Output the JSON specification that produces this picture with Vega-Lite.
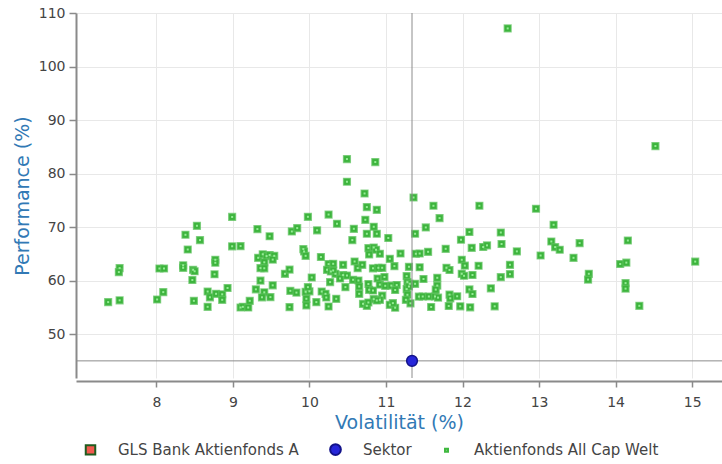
{
  "$schema": "https://vega.github.io/schema/vega-lite/v6.json",
  "width": 646,
  "height": 365,
  "autosize": {"type": "none"},
  "padding": {"left": 76, "top": 13, "right": 0, "bottom": 86},
  "config": {
    "view": {"stroke": null},
    "font": "DejaVu Sans",
    "axis": {
      "domainColor": "#8a8a8a", "domainWidth": 2,
      "tickColor": "#8a8a8a", "tickWidth": 1.5,
      "gridColor": "#e8e8e8", "gridWidth": 1,
      "labelColor": "#444444", "labelFont": "DejaVu Sans", "labelFontSize": 14,
      "titleFont": "DejaVu Sans", "titleFontSize": 19, "titleFontWeight": "normal", "titleColor": "#3179b5"
    },
    "legend": {
      "orient": "none", "legendX": 7, "legendY": 429, "direction": "horizontal",
      "columnPadding": 27, "labelOffset": 20, "symbolStrokeWidth": 2, "labelLimit": 0,
      "labelFont": "DejaVu Sans", "labelFontSize": 15, "labelColor": "#444444", "padding": 0
    }
  },
  "datasets": {
    "sektor": [{"v": 11.34, "p": 45.0, "s": "Sektor"}],
    "funds": [
      {"v":7.37,"p":55.98},{"v":7.52,"p":56.32},{"v":7.52,"p":62.34},{"v":7.51,"p":61.59},{"v":8.01,"p":56.47},{"v":8.04,"p":62.26},{"v":8.10,"p":62.26},{"v":8.09,"p":57.85},{"v":8.35,"p":62.86},{"v":8.35,"p":62.39},{"v":8.38,"p":68.56},{"v":8.41,"p":65.81},{"v":8.48,"p":62.02},{"v":8.50,"p":61.74},{"v":8.47,"p":60.11},{"v":8.49,"p":56.22},{"v":8.53,"p":70.24},{"v":8.57,"p":67.57},{"v":8.67,"p":55.10},{"v":8.67,"p":57.96},{"v":8.70,"p":56.88},{"v":8.77,"p":63.89},{"v":8.77,"p":63.33},{"v":8.76,"p":61.18},{"v":8.78,"p":57.53},{"v":8.86,"p":57.44},{"v":8.86,"p":56.41},{"v":8.93,"p":58.62},{"v":8.99,"p":71.89},{"v":8.99,"p":66.41},{"v":9.10,"p":66.45},{"v":9.10,"p":54.97},{"v":9.13,"p":55.10},{"v":9.20,"p":54.97},{"v":9.22,"p":56.22},{"v":9.30,"p":58.37},{"v":9.32,"p":69.63},{"v":9.33,"p":64.26},{"v":9.39,"p":64.92},{"v":9.44,"p":64.58},{"v":9.48,"p":64.78},{"v":9.54,"p":64.63},{"v":9.52,"p":63.92},{"v":9.41,"p":63.42},{"v":9.36,"p":62.34},{"v":9.41,"p":62.30},{"v":9.36,"p":60.00},{"v":9.52,"p":59.12},{"v":9.41,"p":57.81},{"v":9.38,"p":56.88},{"v":9.49,"p":56.92},{"v":9.48,"p":68.28},{"v":9.68,"p":61.27},{"v":9.74,"p":62.06},{"v":9.75,"p":58.09},{"v":9.83,"p":57.76},{"v":9.74,"p":55.05},{"v":9.77,"p":69.18},{"v":9.84,"p":69.81},
      {"v":9.92,"p":65.89},{"v":9.93,"p":65.44},{"v":9.95,"p":64.63},{"v":9.98,"p":71.92},{"v":9.95,"p":57.91},{"v":10.00,"p":58.00},{"v":9.98,"p":58.78},{"v":9.96,"p":56.60},{"v":9.96,"p":55.38},{"v":10.03,"p":60.58},{"v":10.09,"p":55.98},{"v":10.10,"p":69.40},{"v":10.15,"p":64.41},{"v":10.16,"p":57.96},{"v":10.21,"p":57.53},{"v":10.22,"p":56.84},{"v":10.25,"p":72.34},{"v":10.25,"p":63.08},{"v":10.31,"p":63.14},{"v":10.23,"p":62.02},{"v":10.28,"p":61.70},{"v":10.34,"p":61.27},{"v":10.31,"p":61.89},{"v":10.25,"p":55.16},{"v":10.27,"p":59.72},{"v":10.35,"p":56.60},{"v":10.36,"p":70.62},{"v":10.44,"p":62.95},{"v":10.44,"p":61.03},{"v":10.49,"p":60.95},{"v":10.40,"p":60.39},{"v":10.47,"p":58.78},{"v":10.49,"p":82.71},{"v":10.49,"p":78.47},{"v":10.56,"p":67.57},{"v":10.58,"p":69.68},{"v":10.59,"p":63.57},{"v":10.63,"p":62.34},{"v":10.57,"p":60.15},{"v":10.64,"p":60.02},{"v":10.65,"p":58.90},{"v":10.65,"p":57.53},{"v":10.69,"p":62.95},{"v":10.72,"p":76.28},{"v":10.73,"p":71.36},{"v":10.75,"p":73.74},{"v":10.75,"p":68.75},{"v":10.77,"p":66.07},{"v":10.84,"p":66.19},{"v":10.87,"p":65.76},{"v":10.78,"p":64.88},{"v":10.92,"p":65.01},{"v":10.83,"p":62.30},{"v":10.90,"p":62.39},{"v":10.95,"p":62.39},{"v":10.89,"p":60.39},{"v":10.98,"p":60.67},{"v":10.77,"p":59.36},{"v":10.92,"p":59.25},{"v":10.99,"p":59.03},{"v":11.07,"p":59.07},{"v":11.14,"p":59.18},{"v":10.78,"p":58.28},{"v":10.83,"p":58.15},{"v":11.12,"p":58.24},{"v":10.95,"p":57.20},{"v":10.92,"p":56.41},{"v":10.84,"p":56.54},{"v":10.88,"p":56.28},{"v":10.70,"p":55.66},{"v":10.75,"p":55.29},{"v":10.77,"p":55.91},{"v":10.84,"p":70.06},{"v":10.86,"p":82.15},{"v":10.88,"p":73.23},{"v":10.88,"p":68.75},{"v":11.03,"p":67.96},{"v":11.05,"p":64.07},{"v":11.11,"p":62.71},{"v":11.05,"p":55.48},{"v":11.12,"p":54.93},{"v":11.09,"p":55.79},
      {"v":11.19,"p":65.06},{"v":11.27,"p":60.84},{"v":11.30,"p":62.58},{"v":11.28,"p":59.72},{"v":11.31,"p":59.40},{"v":11.38,"p":59.40},{"v":11.27,"p":58.41},{"v":11.30,"p":58.90},{"v":11.28,"p":57.35},{"v":11.26,"p":56.41},{"v":11.32,"p":55.76},{"v":11.36,"p":75.53},{"v":11.38,"p":68.75},{"v":11.39,"p":65.01},{"v":11.44,"p":65.06},{"v":11.44,"p":62.49},{"v":11.43,"p":57.01},{"v":11.48,"p":57.03},{"v":11.49,"p":60.30},{"v":11.52,"p":69.93},{"v":11.55,"p":65.38},{"v":11.56,"p":57.03},{"v":11.59,"p":55.07},{"v":11.62,"p":73.98},{"v":11.64,"p":57.03},{"v":11.68,"p":56.82},{"v":11.67,"p":60.52},{"v":11.67,"p":59.07},{"v":11.65,"p":58.32},{"v":11.70,"p":71.68},{"v":11.78,"p":65.94},{"v":11.79,"p":62.39},{"v":11.83,"p":61.98},{"v":11.83,"p":57.38},{"v":11.84,"p":56.69},{"v":11.93,"p":57.07},{"v":11.82,"p":55.25},{"v":11.97,"p":55.20},{"v":11.98,"p":67.63},{"v":11.99,"p":63.89},{"v":12.03,"p":62.80},{"v":11.99,"p":61.27},{"v":12.02,"p":60.90},{"v":12.09,"p":69.08},{"v":12.12,"p":66.13},{"v":12.13,"p":61.05},{"v":12.09,"p":58.35},{"v":12.13,"p":57.49},{"v":12.10,"p":55.01},{"v":12.22,"p":73.98},{"v":12.21,"p":62.77},{"v":12.27,"p":66.28},{"v":12.32,"p":66.58},{"v":12.37,"p":58.56},{"v":12.42,"p":55.20},{"v":12.50,"p":68.99},{"v":12.51,"p":66.84},{"v":12.50,"p":60.65},
      {"v":12.59,"p":107.12},{"v":12.62,"p":62.95},{"v":12.62,"p":61.21},{"v":12.71,"p":65.46},{"v":12.96,"p":73.42},{"v":13.02,"p":64.69},{"v":13.19,"p":70.43},{"v":13.16,"p":67.31},{"v":13.21,"p":66.26},{"v":13.27,"p":65.76},{"v":13.53,"p":67.01},{"v":13.45,"p":64.26},{"v":13.65,"p":61.27},{"v":13.64,"p":60.19},{"v":14.06,"p":63.10},{"v":14.14,"p":63.36},{"v":14.16,"p":67.49},{"v":14.13,"p":59.53},{"v":14.13,"p":58.50},{"v":14.31,"p":55.29},{"v":14.52,"p":85.14},{"v":15.04,"p":63.55}
    ]
  },
  "layer": [
    {
      "data": {"name": "funds"},
      "mark": {"type": "point", "shape": "square", "filled": true, "size": 46, "fill": "#3cb43c", "stroke": "#5cc25c", "strokeOpacity": 0.7, "strokeWidth": 1.4, "opacity": 1},
      "encoding": {
        "x": {"field": "v", "type": "quantitative", "title": "Volatilität (%)",
          "scale": {"domain": [6.95, 15.39], "nice": false, "zero": false},
          "axis": {"values": [8, 9, 10, 11, 12, 13, 14, 15], "format": "d", "tickSize": 6, "labelPadding": 8, "offset": 3, "titlePadding": 4, "labelFlush": false}},
        "y": {"field": "p", "type": "quantitative", "title": "Performance (%)",
          "scale": {"domain": [41.8, 110], "nice": false, "zero": false},
          "axis": {"values": [50, 60, 70, 80, 90, 100, 110], "format": "d", "tickSize": 7, "labelPadding": 4, "titlePadding": 6, "labelFlush": false}}
      }
    },
    {
      "data": {"name": "funds"},
      "mark": {"type": "square", "size": 4, "color": "#96ec96", "opacity": 1},
      "encoding": {
        "x": {"field": "v", "type": "quantitative", "title": "Volatilität (%)"},
        "y": {"field": "p", "type": "quantitative", "title": "Performance (%)"}
      }
    },
    {
      "data": {"name": "sektor"},
      "mark": {"type": "rule", "color": "#8c8c8c", "strokeWidth": 1},
      "encoding": {
        "x": {"field": "v", "type": "quantitative", "title": "Volatilität (%)"}
      }
    },
    {
      "data": {"name": "sektor"},
      "mark": {"type": "rule", "color": "#8c8c8c", "strokeWidth": 1},
      "encoding": {
        "y": {"field": "p", "type": "quantitative", "title": "Performance (%)"}
      }
    },
    {
      "data": {"name": "sektor"},
      "mark": {"type": "point", "filled": true, "opacity": 1, "strokeWidth": 1.5},
      "encoding": {
        "x": {"field": "v", "type": "quantitative", "title": "Volatilität (%)"},
        "y": {"field": "p", "type": "quantitative", "title": "Performance (%)"},
        "fill": {"field": "s", "type": "nominal", "title": null,
          "scale": {"domain": ["GLS Bank Aktienfonds A", "Sektor", "Aktienfonds All Cap  Welt"], "range": ["#f25a4f", "#2626d9", "#86dc86"]}},
        "stroke": {"field": "s", "type": "nominal", "title": null,
          "scale": {"domain": ["GLS Bank Aktienfonds A", "Sektor", "Aktienfonds All Cap  Welt"], "range": ["#1f5c1f", "#12128a", "#3fb83f"]}},
        "shape": {"field": "s", "type": "nominal", "title": null,
          "scale": {"domain": ["GLS Bank Aktienfonds A", "Sektor", "Aktienfonds All Cap  Welt"], "range": ["square", "circle", "square"]}},
        "size": {"field": "s", "type": "nominal", "title": null,
          "scale": {"type": "ordinal", "domain": ["GLS Bank Aktienfonds A", "Sektor", "Aktienfonds All Cap  Welt"], "range": [90, 115, 9]}}
      }
    }
  ]
}
